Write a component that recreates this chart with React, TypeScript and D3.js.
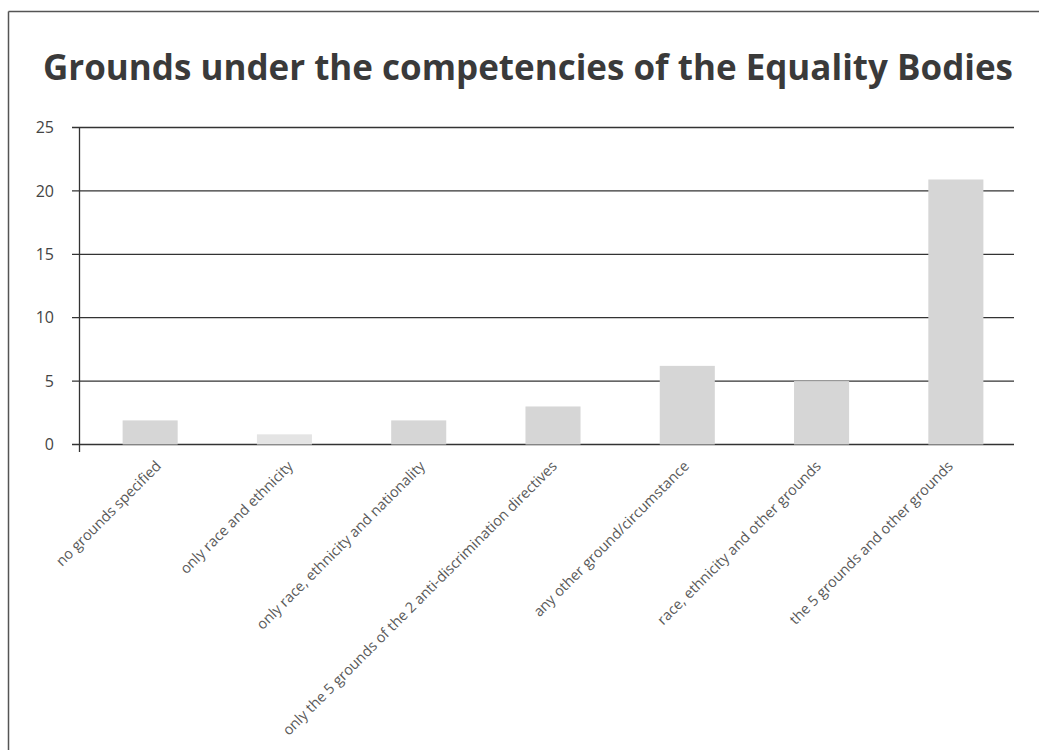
import React from "react";
import * as d3 from "d3";

const title = "Grounds under the competencies of the Equality Bodies";
const categories = [
  "no grounds specified",
  "only race and ethnicity",
  "only race, ethnicity and nationality",
  "only the 5 grounds of the 2 anti-discrimination directives",
  "any other ground/circumstance",
  "race, ethnicity and other grounds",
  "the 5 grounds and other grounds",
];
const values = [1.9, 0.8, 1.9, 3, 6.2, 5, 20.9];
const yTicks = [0, 5, 10, 15, 20, 25];

const W = 1039;
const H = 750;

export default function App() {
  const x = d3
    .scaleBand<string>()
    .domain(categories)
    .range([83, 1023])
    .paddingInner(0.59)
    .paddingOuter(0.295);
  const labelX = d3.scalePoint<string>().domain(categories).range([162, 954]);
  const y = d3.scaleLinear().domain([0, 25]).range([444.5, 127.5]);
  const axisX = 79.5;
  const gridRight = 1014;

  return (
    <svg
      width={W}
      height={H}
      style={{ position: "absolute", left: 0, top: 0, background: "#fff" }}
      fontFamily="'Open Sans', sans-serif"
    >
      <rect x={0} y={0} width={W} height={H} fill="#fff" />
      {/* frame */}
      <line x1={8.5} y1={11.5} x2={W} y2={11.5} stroke="#555" strokeWidth={1.5} />
      <line x1={8.5} y1={11.5} x2={8.5} y2={H} stroke="#555" strokeWidth={1.5} />
      {/* title */}
      <text
        x={43}
        y={80}
        fontSize={35}
        fontWeight={700}
        fill="#3a3a3a"
        textLength={970}
        lengthAdjust="spacingAndGlyphs"
      >
        {title}
      </text>
      {/* gridlines */}
      {yTicks.map((t) => (
        <line
          key={t}
          x1={72}
          x2={gridRight}
          y1={y(t)}
          y2={y(t)}
          stroke="#333"
          strokeWidth={1.3}
        />
      ))}
      {/* y tick labels */}
      {yTicks.map((t) => (
        <text
          key={"l" + t}
          x={54}
          y={y(t)}
          dy="0.35em"
          textAnchor="end"
          fontSize={16}
          fill="#444"
        >
          {t}
        </text>
      ))}
      {/* bars */}
      {categories.map((c, i) => (
        <rect
          key={c}
          x={x(c)}
          y={y(values[i])}
          width={x.bandwidth()}
          height={y(0) - y(values[i])}
          fill={i === 1 ? "#e4e4e4" : "#d6d6d6"}
        />
      ))}
      {/* y axis */}
      <line x1={axisX} x2={axisX} y1={y(25)} y2={452} stroke="#333" strokeWidth={1.3} />
      {/* category labels */}
      {categories.map((c) => (
        <text
          key={"c" + c}
          transform={`translate(${labelX(c)},467) rotate(-45)`}
          textAnchor="end"
          fontSize={14.5}
          fill="#5a5a5a"
        >
          {c}
        </text>
      ))}
    </svg>
  );
}
